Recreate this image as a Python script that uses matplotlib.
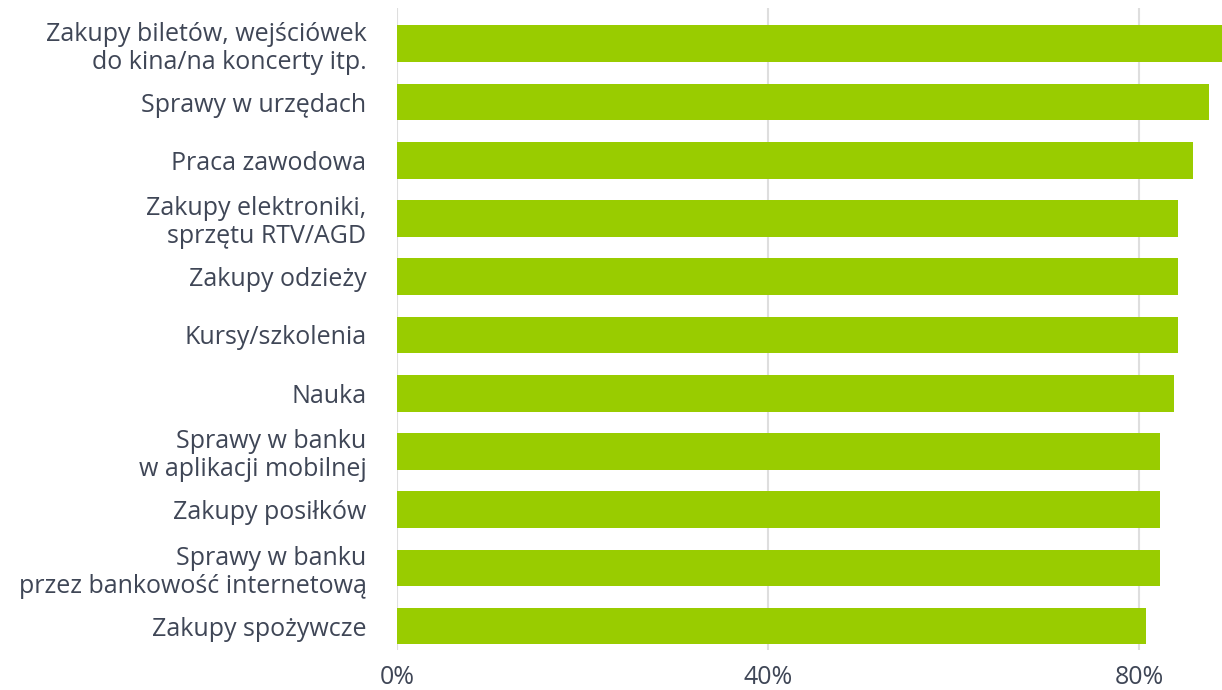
import matplotlib.pyplot as plt
from matplotlib.ticker import FuncFormatter

plt.rcParams['font.family'] = ['Open Sans', 'DejaVu Sans']

categories = [
    'Zakupy biletów, wejściówek\ndo kina/na koncerty itp.',
    'Sprawy w urzędach',
    'Praca zawodowa',
    'Zakupy elektroniki,\nsprzętu RTV/AGD',
    'Zakupy odzieży',
    'Kursy/szkolenia',
    'Nauka',
    'Sprawy w banku\nw aplikacji mobilnej',
    'Zakupy posiłków',
    'Sprawy w banku\nprzez bankowość internetową',
    'Zakupy spożywcze',
]
values = [90, 87.5, 85.8, 84.2, 84.2, 84.2, 83.7, 82.2, 82.2, 82.2, 80.7]
ticks = [0, 40, 80]

text_color = '#3f4656'
bar_color = '#99cc00'

fig = plt.figure(figsize=(12.22, 6.9), dpi=100)
ax = fig.add_axes([0.3249, 0.058, 0.6751, 0.93])

pos = list(range(len(categories)))
ax.barh(pos, values, height=0.63, color=bar_color, zorder=2)

ax.set_xlim(0, 88.9)
ax.set_ylim(10.41, -0.61)
ax.set_xticks(ticks)
ax.xaxis.set_major_formatter(FuncFormatter(lambda v, p: f'{v:.0f}%'))
ax.set_yticks(pos)
ax.set_yticklabels(categories)
ax.grid(axis='x', color='#dedede', linewidth=1.5, zorder=0)
ax.grid(axis='y', visible=False)
for s in ax.spines.values():
    s.set_visible(False)
ax.tick_params(axis='both', length=0, labelsize=18, labelcolor=text_color)
ax.tick_params(axis='y', pad=22)
ax.tick_params(axis='x', pad=11)
for lab in ax.get_yticklabels():
    lab.set_multialignment('right')
    lab.set_linespacing(1.15)

fig.savefig('out.png', dpi=100)
